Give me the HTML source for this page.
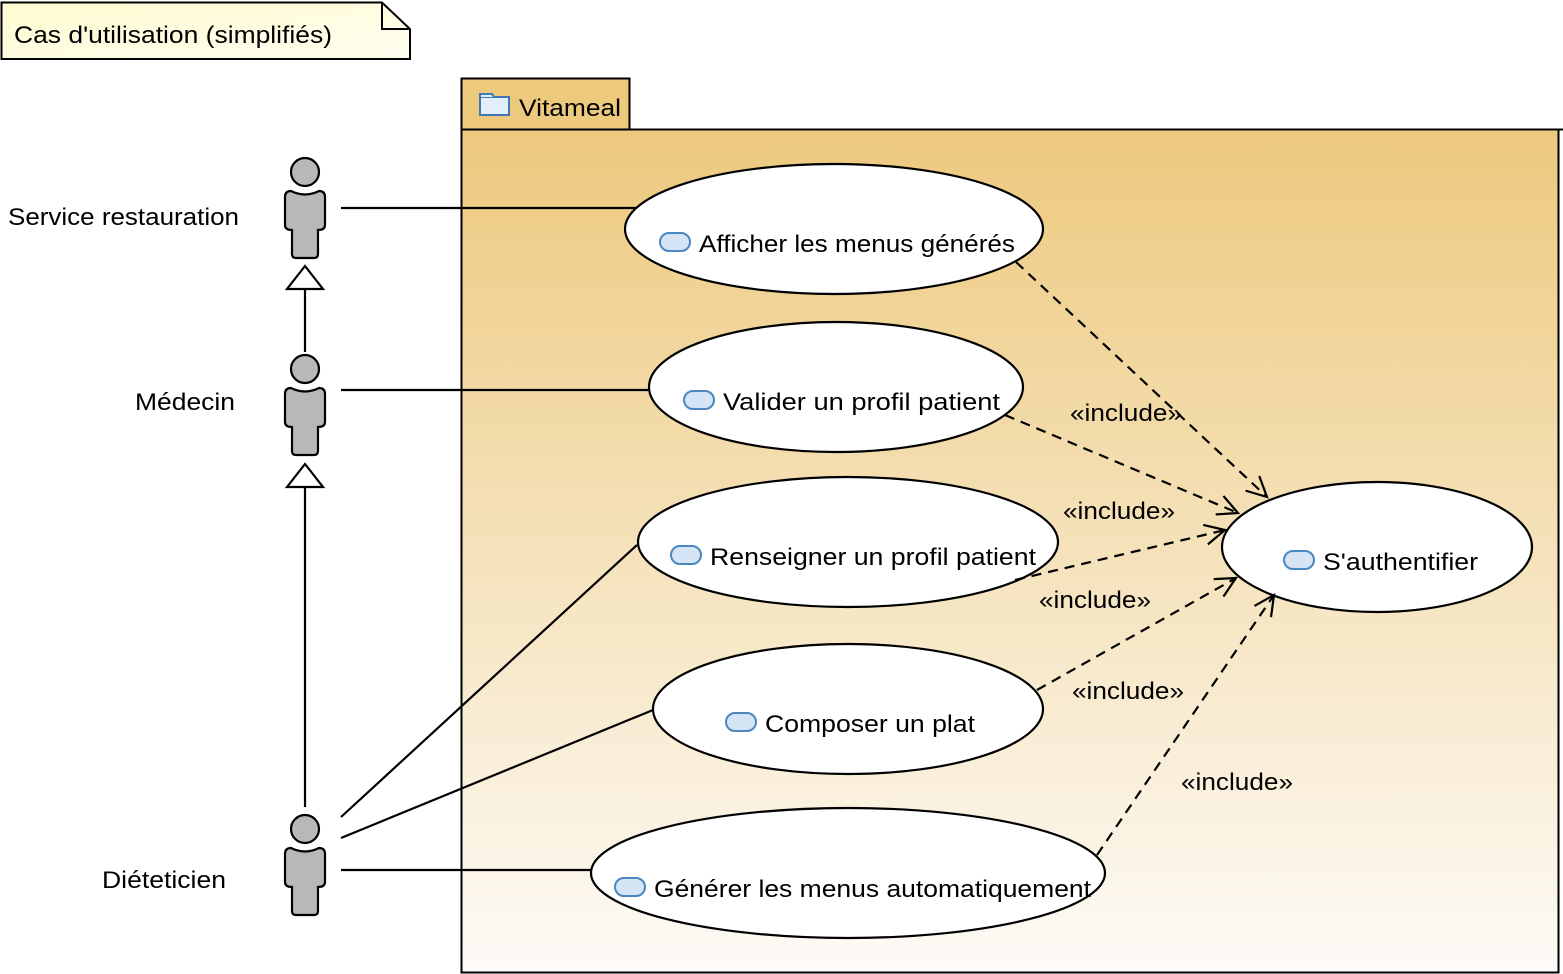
<!DOCTYPE html>
<html><head><meta charset="utf-8"><style>
html,body{margin:0;padding:0;background:#fff;}
svg{display:block;}
text{font-family:"Liberation Sans",sans-serif;font-size:24px;fill:#000;}
</style></head><body>
<svg width="1563" height="974" viewBox="0 0 1563 974" xmlns="http://www.w3.org/2000/svg">
<defs>
<linearGradient id="g" x1="0" y1="0" x2="0" y2="1">
<stop offset="0" stop-color="#edc97e"/>
<stop offset="1" stop-color="#fdfbf7"/>
</linearGradient>
<linearGradient id="n" x1="0" y1="0" x2="1" y2="1">
<stop offset="0" stop-color="#fffbd0"/>
<stop offset="1" stop-color="#fffef0"/>
</linearGradient>
<marker id="a" markerUnits="userSpaceOnUse" markerWidth="30" markerHeight="30" refX="22" refY="11" orient="auto">
<path d="M2,1 L22,11 L2,21" fill="none" stroke="#000" stroke-width="2.2"/>
</marker>
<g id="actor">
<circle cx="0" cy="0" r="14" fill="#b8b8b8" stroke="#000" stroke-width="2.2"/>
<path d="M-14,19 Q-20,19 -20,25 L-20,53 Q-20,58 -13,58 L-13,82 Q-13,86 -9,86 L9,86 Q13,86 13,82 L13,58 Q20,58 20,53 L20,25 Q20,19 14,19 Q0,26 -14,19 Z" fill="#b8b8b8" stroke="#000" stroke-width="2.2"/>
</g>
<g id="uc">
<rect x="-15" y="-9" width="30" height="18" rx="9" fill="#d5e5f5" stroke="#4a86c0" stroke-width="2"/>
</g>
</defs>

<path d="M1.5,2.5 L382,2.5 L410,29 L410,59 L1.5,59 Z" fill="url(#n)" stroke="#000" stroke-width="2"/>
<path d="M382,2.5 L382,29 L410,29" fill="none" stroke="#000" stroke-width="2"/>
<text x="14" y="43" textLength="318" lengthAdjust="spacingAndGlyphs">Cas d'utilisation (simplifiés)</text>

<rect x="461.5" y="78.5" width="168" height="51" fill="#edc97e" stroke="#000" stroke-width="2"/>
<rect x="461.5" y="129.5" width="1097" height="843" fill="url(#g)" stroke="#000" stroke-width="2"/>
<line x1="461" y1="129.5" x2="1563" y2="129.5" stroke="#000" stroke-width="2"/>
<rect x="480" y="97" width="29" height="18" fill="#e2eefa" stroke="#3f78b5" stroke-width="2"/>
<path d="M480,97 L480,94 L492,94 L494,97" fill="#e2eefa" stroke="#3f78b5" stroke-width="2"/>
<text x="519" y="116" textLength="102" lengthAdjust="spacingAndGlyphs">Vitameal</text>

<use href="#actor" x="305" y="172"/>
<use href="#actor" x="305" y="369"/>
<use href="#actor" x="305" y="829"/>
<text x="8" y="225" textLength="231" lengthAdjust="spacingAndGlyphs">Service restauration</text>
<text x="135" y="410" textLength="100" lengthAdjust="spacingAndGlyphs">Médecin</text>
<text x="102" y="888" textLength="124" lengthAdjust="spacingAndGlyphs">Diéteticien</text>

<g stroke="#000" stroke-width="2.2">
<line x1="305" y1="352" x2="305" y2="289"/>
<path d="M287,289 L305,266 L323,289 Z" fill="#fff"/>
<line x1="305" y1="807" x2="305" y2="487"/>
<path d="M287,487 L305,464 L323,487 Z" fill="#fff"/>
</g>

<g stroke="#000" stroke-width="2.2">
<line x1="341" y1="208" x2="636" y2="208"/>
<line x1="341" y1="390" x2="650" y2="390"/>
<line x1="341" y1="817" x2="637" y2="545"/>
<line x1="341" y1="838" x2="653" y2="710"/>
<line x1="341" y1="870" x2="592" y2="870"/>
</g>

<g fill="#fff" stroke="#000" stroke-width="2.2">
<ellipse cx="834" cy="229" rx="209" ry="65"/>
<ellipse cx="836" cy="387" rx="187" ry="65"/>
<ellipse cx="848" cy="542" rx="210" ry="65"/>
<ellipse cx="848" cy="709" rx="195" ry="65"/>
<ellipse cx="848" cy="873" rx="257" ry="65"/>
<ellipse cx="1377" cy="547" rx="155" ry="65"/>
</g>
<use href="#uc" x="675" y="242"/>
<use href="#uc" x="699" y="400"/>
<use href="#uc" x="686" y="555"/>
<use href="#uc" x="741" y="722"/>
<use href="#uc" x="630" y="887"/>
<use href="#uc" x="1299" y="560"/>
<text x="699" y="252" textLength="316" lengthAdjust="spacingAndGlyphs">Afficher les menus générés</text>
<text x="723" y="410" textLength="277" lengthAdjust="spacingAndGlyphs">Valider un profil patient</text>
<text x="710" y="565" textLength="326" lengthAdjust="spacingAndGlyphs">Renseigner un profil patient</text>
<text x="765" y="732" textLength="210" lengthAdjust="spacingAndGlyphs">Composer un plat</text>
<text x="654" y="897" textLength="437" lengthAdjust="spacingAndGlyphs">Générer les menus automatiquement</text>
<text x="1323" y="570" textLength="155" lengthAdjust="spacingAndGlyphs">S'authentifier</text>

<g stroke="#000" stroke-width="2.2" stroke-dasharray="10,7" fill="none" marker-end="url(#a)">
<line x1="1016" y1="262" x2="1267" y2="497"/>
<line x1="1005" y1="415" x2="1238" y2="513"/>
<line x1="1015" y1="580" x2="1225" y2="530"/>
<line x1="1037" y1="690" x2="1236" y2="578"/>
<line x1="1097" y1="855" x2="1274" y2="595"/>
</g>
<text x="1070" y="421" textLength="112" lengthAdjust="spacingAndGlyphs">«include»</text>
<text x="1063" y="519" textLength="112" lengthAdjust="spacingAndGlyphs">«include»</text>
<text x="1039" y="608" textLength="112" lengthAdjust="spacingAndGlyphs">«include»</text>
<text x="1072" y="699" textLength="112" lengthAdjust="spacingAndGlyphs">«include»</text>
<text x="1181" y="790" textLength="112" lengthAdjust="spacingAndGlyphs">«include»</text>
</svg>
</body></html>
